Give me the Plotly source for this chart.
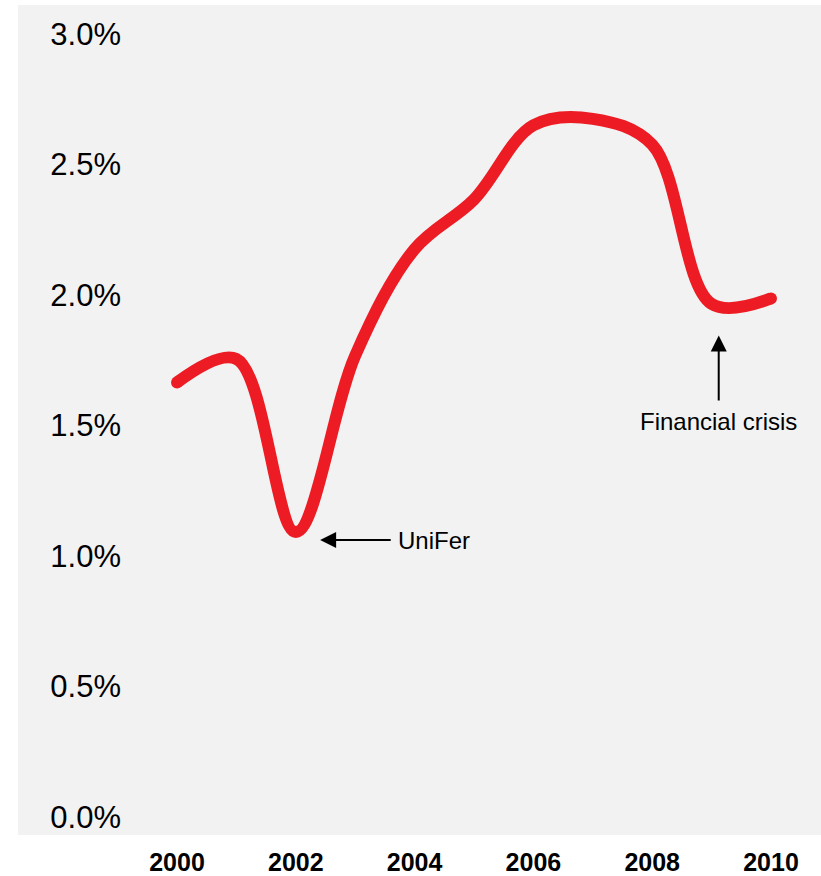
import plotly.graph_objects as go

# Annual series (percent)
years = [2000, 2001, 2002, 2003, 2004, 2005, 2006, 2007, 2008, 2009, 2010]
rate = [1.665, 1.755, 1.092, 1.768, 2.176, 2.366, 2.650, 2.675, 2.576, 1.966, 1.987]

y_ticks = [0.0, 0.5, 1.0, 1.5, 2.0, 2.5, 3.0]
x_ticks = [2000, 2002, 2004, 2006, 2008, 2010]

# Annotated events: (label, arrow tip x, arrow tip y, text x, text y)
events = [
    ("UniFer", 2002.41, 1.061, 2004.33, 1.061),
    ("Financial crisis", 2009.12, 1.845, 2009.12, 1.515),
]

FONT = "Liberation Sans, Arial, Helvetica, sans-serif"
W, H = 821, 876
ML, MR, MT, MB = 140, 0, 5, 38
RED = "#ED1C24"
LW = 12

fig = go.Figure()
fig.add_trace(go.Scatter(
    x=years, y=rate, mode="lines",
    line=dict(color=RED, width=LW, shape="spline", smoothing=1.0),
    hoverinfo="skip", showlegend=False,
))
# Rounded ends of the line
fig.add_trace(go.Scatter(
    x=[years[0], years[-1]], y=[rate[0], rate[-1]], mode="markers",
    marker=dict(color=RED, size=LW, line_width=0),
    hoverinfo="skip", showlegend=False,
))

for label, x, y, tx, ty in events:
    fig.add_annotation(
        x=x, y=y, ax=tx, ay=ty, axref="x", ayref="y", xref="x", yref="y",
        text=label, showarrow=True, arrowhead=2, arrowsize=1.6, arrowwidth=2,
        startstandoff=6, arrowcolor="black",
        font=dict(family=FONT, size=24, color="black"),
    )

# Grey panel reaching under the y tick labels
fig.add_shape(type="rect", xref="paper", yref="paper",
              x0=(18 - ML) / (W - ML - MR), x1=1, y0=0, y1=1,
              fillcolor="#f2f2f2", line_width=0, layer="below")

fig.update_layout(
    width=W, height=H,
    margin=dict(l=ML, r=MR, t=MT, b=MB),
    paper_bgcolor="white", plot_bgcolor="rgba(0,0,0,0)",
    font=dict(family=FONT, color="black"),
    xaxis=dict(range=[1999.377, 2010.842], tickvals=x_ticks,
               ticktext=[f"<b>{v}</b>" for v in x_ticks],
               showgrid=False, zeroline=False, showline=False,
               ticks="", ticklabelstandoff=10,
               tickfont=dict(family=FONT, size=25, color="black")),
    yaxis=dict(range=[-0.0687, 3.111], tickvals=y_ticks,
               ticktext=[f"{v:.1f}%" for v in y_ticks],
               showgrid=False, zeroline=False, showline=False,
               ticks="", ticklabelstandoff=18,
               tickfont=dict(family=FONT, size=31, color="black")),
)

fig.write_html("out.html")
